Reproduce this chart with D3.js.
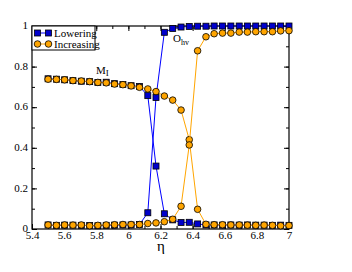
<!DOCTYPE html>
<html>
<head>
<meta charset="utf-8">
<script src="https://cdn.jsdelivr.net/npm/d3@7"></script>
<style>
html,body{margin:0;padding:0;background:#fff;}
svg{display:block;}
text{font-family:"Liberation Serif","Times New Roman",serif;fill:#000;}
</style>
</head>
<body>
<svg id="chart" width="352" height="272"></svg>
<script>
const eta = [5.5, 5.552, 5.603, 5.655, 5.707, 5.759, 5.81, 5.862, 5.914, 5.966, 6.017, 6.069, 6.121, 6.172, 6.224, 6.276, 6.328, 6.379, 6.431, 6.483, 6.534, 6.586, 6.638, 6.69, 6.741, 6.793, 6.845, 6.897, 6.948, 7.0];
const lowerM = [0.74,0.738,0.735,0.731,0.728,0.726,0.722,0.723,0.716,0.712,0.706,0.702,0.657,0.31,0.075,0.045,0.032,0.033,0.025,0.02,0.02,0.019,0.02,0.019,0.02,0.019,0.019,0.018,0.019,0.018];
const lowerO = [0.02,0.018,0.019,0.019,0.018,0.017,0.016,0.018,0.019,0.02,0.02,0.022,0.08,0.648,0.969,0.988,0.995,0.998,0.999,0.999,1,1,1,1,1,1,1,1,1,1];
const incM = [0.738,0.737,0.735,0.731,0.729,0.726,0.722,0.72,0.714,0.711,0.705,0.698,0.69,0.677,0.655,0.635,0.586,0.44,0.097,0.023,0.021,0.021,0.02,0.02,0.019,0.018,0.019,0.018,0.016,0.017];
const incO = [0.02,0.018,0.02,0.019,0.02,0.016,0.018,0.02,0.021,0.022,0.022,0.022,0.027,0.03,0.036,0.048,0.112,0.414,0.878,0.947,0.962,0.965,0.965,0.97,0.97,0.972,0.972,0.972,0.976,0.977];
const xTicks = [5.4, 5.6, 5.8, 6, 6.2, 6.4, 6.6, 6.8, 7];
const yTicks = [0, 0.2, 0.4, 0.6, 0.8, 1];
const seriesNames = ["Lowering", "Increasing"];

const L = 32, R = 289, T = 26, B = 229;
const FONT = '"Liberation Serif","Times New Roman",serif';
const svg = d3.select("#chart");
const x = d3.scaleLinear().domain([5.4, 7]).range([L, R]);
const y = d3.scaleLinear().domain([0, 1]).range([B, T]);

const fmt = d => d3.format("")(d);
const minorX = d3.range(54, 71).map(v => v / 10);
const minorY = d3.range(0, 11).map(v => v / 10);

function axisGroup(axis, tx, ty) {
  const g = svg.append("g").attr("transform", `translate(${tx},${ty})`).call(axis)
    .attr("font-family", FONT).attr("font-size", 11);
  g.select(".domain").remove();
  g.selectAll("line").attr("stroke", "#000");
  g.selectAll("text").attr("font-family", FONT).attr("font-size", 11).attr("fill", "#000");
  return g;
}
// bottom
axisGroup(d3.axisBottom(x).tickValues(xTicks).tickFormat(fmt).tickSizeInner(-5).tickPadding(8), 0, B)
  .selectAll("text").attr("dy", null).attr("y", 9.5);
axisGroup(d3.axisBottom(x).tickValues(minorX).tickFormat("").tickSizeInner(-3), 0, B);
// top
axisGroup(d3.axisTop(x).tickValues(xTicks).tickFormat("").tickSizeInner(-5), 0, T);
axisGroup(d3.axisTop(x).tickValues(minorX).tickFormat("").tickSizeInner(-3), 0, T);
// left
axisGroup(d3.axisLeft(y).tickValues(yTicks).tickFormat(fmt).tickSizeInner(-5).tickPadding(3), L, 0)
  .selectAll("text").attr("x", -4).attr("dy", "0.25em");
axisGroup(d3.axisLeft(y).tickValues(minorY).tickFormat("").tickSizeInner(-3), L, 0);
// right
axisGroup(d3.axisRight(y).tickValues(yTicks).tickFormat("").tickSizeInner(-5), R, 0);
axisGroup(d3.axisRight(y).tickValues(minorY).tickFormat("").tickSizeInner(-3), R, 0);

// frame
svg.append("rect").attr("x", L).attr("y", T).attr("width", R - L).attr("height", B - T)
  .attr("fill", "none").attr("stroke", "#000").attr("stroke-width", 1.2);

// x label
svg.append("text").attr("x", 161).attr("y", 251).attr("text-anchor", "middle")
  .attr("font-family", FONT).style("font-size", "15px").text("η");

const line = d3.line().x(d => x(d[0])).y(d => y(d[1]));
const blue = "#0000ff", blueFill = "#0000cc", orange = "#ffa500";

function drawSeries(vals, color, fill, shape) {
  const pts = eta.map((e, i) => [e, vals[i]]);
  svg.append("path").datum(pts).attr("d", line).attr("fill", "none")
    .attr("stroke", color).attr("stroke-width", 1);
  const g = svg.append("g");
  if (shape === "square") {
    g.selectAll("rect").data(pts).join("rect")
      .attr("x", d => x(d[0]) - 3).attr("y", d => y(d[1]) - 3)
      .attr("width", 6).attr("height", 6)
      .attr("fill", fill).attr("stroke", "#000").attr("stroke-width", 0.8);
  } else {
    g.selectAll("circle").data(pts).join("circle")
      .attr("cx", d => x(d[0])).attr("cy", d => y(d[1])).attr("r", 3.3)
      .attr("fill", fill).attr("stroke", "#000").attr("stroke-width", 0.8);
  }
}
drawSeries(lowerM, blue, blueFill, "square");
drawSeries(lowerO, blue, blueFill, "square");
drawSeries(incM, orange, orange, "circle");
drawSeries(incO, orange, orange, "circle");

// annotations
const m = svg.append("text").attr("x", 96).attr("y", 74).attr("font-family", FONT).style("font-size", "11px");
m.append("tspan").text("M");
m.append("tspan").attr("dy", 2).style("font-size", "9px").text("I");
const o = svg.append("text").attr("x", 173).attr("y", 42).attr("font-family", FONT).style("font-size", "11px");
o.append("tspan").text("O");
o.append("tspan").attr("dy", 3).style("font-size", "8px").text("hv");

// legend
const lg = svg.append("g");
lg.append("rect").attr("x", L).attr("y", T).attr("width", 63).attr("height", 24)
  .attr("fill", "#fff").attr("stroke", "#000").attr("stroke-width", 1);
seriesNames.forEach((name, i) => {
  const yy = T + 7 + i * 11;
  const col = i === 0 ? blue : orange;
  lg.append("line").attr("x1", 37).attr("x2", 49).attr("y1", yy).attr("y2", yy)
    .attr("stroke", col).attr("stroke-width", 1);
  [37.5, 48.5].forEach(cx => {
    if (i === 0) {
      lg.append("rect").attr("x", cx - 3).attr("y", yy - 3).attr("width", 6).attr("height", 6)
        .attr("fill", blueFill).attr("stroke", "#000").attr("stroke-width", 0.8);
    } else {
      lg.append("circle").attr("cx", cx).attr("cy", yy).attr("r", 3.3)
        .attr("fill", orange).attr("stroke", "#000").attr("stroke-width", 0.8);
    }
  });
  lg.append("text").attr("x", 54).attr("y", yy + 3.5).attr("font-family", FONT)
    .style("font-size", "11px").text(name);
});
</script>
</body>
</html>
